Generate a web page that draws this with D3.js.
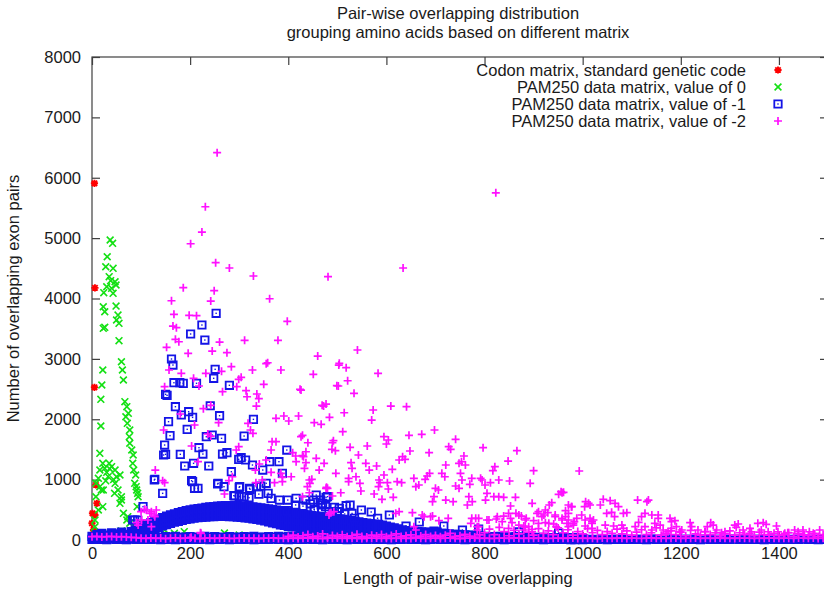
<!DOCTYPE html>
<html>
<head>
<meta charset="utf-8">
<script src="https://cdn.jsdelivr.net/npm/d3@7"></script>
<style>
  html, body { margin: 0; padding: 0; background: #fff; }
  svg { display: block; font-family: "Liberation Sans", Arial, Helvetica, sans-serif; }
</style>
</head>
<body>
<svg id="chart" width="824" height="592"></svg>
<script>
// ---- axis ticks ----
const xTicks = [0, 200, 400, 600, 800, 1000, 1200, 1400];
const yTicks = [0, 1000, 2000, 3000, 4000, 5000, 6000, 7000, 8000];

// ---- legend labels ----
const seriesNames = [
  "Codon matrix, standard genetic code",
  "PAM250 data matrix, value of 0",
  "PAM250 data matrix, value of -1",
  "PAM250 data matrix, value of -2"
];

// ---- Codon matrix: [overlap length, exon pairs] ----
const codonPoints = [
  [5,5908],[6,4176],[5,2529],[8,911],[10,608],[1,442],[6,414],[0,277],[3,166],[2,80],[7,40]
];

// ---- PAM250, value of 0 ----
const pam0Points = [
  [37,4969],[42,4914],[31,4692],[28,4526],[43,4500],[35,4361],[38,4295],[47,4278],[30,4195],[40,4169],
  [49,4223],[24,4096],[43,4086],[23,3864],[26,3781],[49,3875],[53,3726],[50,3644],[55,3589],[23,3506],
  [26,3523],[55,3301],[60,2953],[62,2816],[64,2650],[22,2816],[20,2567],[18,2330],[18,1888],[67,2291],
  [71,2208],[74,2098],[69,2042],[72,1933],[77,1822],[76,1711],[77,1602],[81,1491],[84,1408],[83,1270],
  [85,1159],[89,1077],[16,1436],[22,1270],[26,1187],[16,1159],[13,1022],[35,1270],[40,1214],[47,1159],
  [50,1048],[57,1077],[8,939],[16,883],[23,828],[47,939],[53,828],[60,717],[57,608],[87,939],
  [91,828],[94,717],[92,552],[8,717],[13,497],[6,331],[64,442],[71,331],[77,277],[6,220],
  [19,828],[46,773],[60,662],[93,773],[90,883],[22,552],[73,386],[100,277],[87,220],
  [148,166],[168,111],[188,138],[158,83],[215,28],[300,83],[118,215],[128,133],[240,66],[270,116],[321,50],[382,33],
  [30,1120],[36,1180],[33,1050],[28,980],[44,1000],[5,120],[12,60],[30,90],[60,150],[85,100],[110,60]
];

// ---- PAM250, value of -1: dense hump sampled every 8 lengths from 80 to 1000 ----
const pam1BandStart = 80, pam1BandStep = 8;
const pam1BandTop = [
  140,170,200,230,260,290,320,345,370,395, 415,435,455,470,485,500,510,520,530,540,
  548,555,560,565,568,570,570,568,565,560, 555,548,540,532,525,515,505,495,485,475,
  465,455,
  445,435,425,415,405,395,390,385,380,370, 360,350,340,330,320,310,300,290,280,270,
  265,260,245,230,215,200,185,170,155,150, 145,140,135,130,125,120,115,110,105,100,
  95,92,88,85,80,75,70,65,60,
  58,56,55,60,52,50,48,55,46,45, 50,44,42,40,45,38,36,40,35,34, 38,32,30,34,28
];
const pam1BandMid = [
  90,110,130,160,190,220,250,280,300,325, 345,365,380,395,410,420,430,440,450,455,
  460,465,470,472,475,475,475,472,470,465, 460,455,448,440,430,420,410,398,385,370,
  355,340,
  330,320,310,300,290,285,280,275,270,260, 250,240,230,225,215,210,200,195,185,180,
  175,170,160,150,140,130,125,115,110,105, 100,95,90,88,85,82,80,75,72,70,
  65,62,60,58,55,50,48,45,40,
  40,38,36,40,35,34,32,36,30,30, 32,28,28,26,30,25,24,26,22,22, 24,20,20,22,18
];
const pam1BandLow = [
  40,50,60,90,120,150,180,210,235,255, 275,295,310,325,340,350,360,370,375,380,
  385,388,390,390,390,388,385,380,375,368, 360,350,340,328,315,300,285,270,250,240,
  220,215,
  215,205,195,185,180,175,170,165,160,155, 150,145,140,135,130,125,120,115,110,105,
  100,95,90,85,80,75,70,65,60,55, 50,50,45,45,40,40,40,35,35,35,
  30,30,30,30,25,25,25,20,20,
  18,18,16,20,15,15,14,16,12,12, 14,10,10,12,10,10,8,10,8,8, 10,6,6,8,5
];
// near-zero counts, every 10 lengths
const pam1Near = [
  60,90,110,80,120,100,130,90,110,80, 70,60,55,50,45,55,50,60,45,50,
  55,45,50,60,45,55,50,40,55,50, 45,55,50,60,45,50,55,45,60,50,
  55,50,60,45,55,65,50,60,55,45, 60,50,55,45,60,50,55,65,45,50,
  55,45,50,60,45,55,40,50,45,55, 45,50,40,55,45,35,50,40,45,35,
  40,35,45,30,40,35,30,40,35,30, 35,30,25,35,30,25,30,25,20,30,
  25
];
const pam1Base = [
  10,8,12,6,14,9,11,7,13,10, 8,12,9,15,7,11,10,6,13,9, 12,8,10,14,7,11,9,13,6,10,
  11,9,13,7,12,8,10,15,9,11, 7,12,10,8,14,9,11,6,13,10, 9,11,7,13,10,12,8,14,9,11,
  10,6,12,9,13,8,11,10,7,12, 14,9,11,8,10,13,7,12,9,10, 11,8,13,10,6,12,9,14,8,11,
  10,12,7,11,9,13,10,8,12,9, 13,10,8,11,14,7,12,9,10,11, 8,12,10,6,13,9,11,10,14,8,
  11,9,12,10,7,13,8,11,9,12, 10,14,8,11,9,10,12,7,13,9, 11,10,8,12,9,13,10,11,7,10,
  9
];
const pam1Points = [
  [253,3755],[224,3561],[201,3412],[230,3312],[162,2998],[165,2898],[251,2827],[248,2678],[167,2605],[179,2605],
  [186,2595],[213,2595],[280,2562],[153,2396],[170,2208],[197,2125],[241,2224],[205,2031],[260,2059],[182,2070],
  [156,1960],[329,1998],[194,1833],[159,1728],[233,1711],[245,1739],[264,1684],[310,1722],[148,1573],[146,1408],
  [180,1419],[218,1529],[226,1424],[266,1424],[275,1446],[299,1336],[304,1363],[313,1325],[327,1242],[189,1226],
  [207,1270],[238,1226],[397,1490],[348,1159],[381,1297],[362,1297],[128,1005],[203,982],[144,773],[216,856],
  [257,939],[284,1131],[301,883],[321,856],[335,883],[355,939],[388,1104],[477,707],[150,2413],[150,1419],
  [104,552],[87,331],[457,745],[480,718],[450,662],[470,607],[453,508],[494,541],[504,525],[518,568],
  [535,360],[582,360],[640,232],[697,149],[755,166],[127,994],[209,856],[205,966],[256,928],[269,883],
  [289,734],[300,873],[310,718],[322,840],[344,894],[359,773],[466,662],[476,552],[483,469],[398,486],
  [415,580],[436,662],[490,442],[93,331],[83,331],[703,137],[526,580],[549,497],[569,464],[606,414],
  [667,298],[717,232],[788,182],[870,133],[951,116],
  [365,690],[382,662],[399,662],[416,690],[453,497],[467,580],[340,760],[300,720],[320,700],[430,560],
  [445,600],[500,470],[515,430],[530,440],[291,729]
];

// ---- PAM250, value of -2 ----
const pam2Base = [
  55,60,50,55,60,50,55,50,45,40,
  30,25,35,28,32,22,30,36,26,30, 34,28,24,30,32,26,30,35,28,25,
  30,33,27,30,24,31,29,35,26,30, 28,32,25,30,34,27,30,23,31,29,
  33,26,30,28,35,24,30,29,32,27, 30,25,33,28,31,26,34,30,27,29,
  32,26,30,35,28,24,31,29,33,27, 30,28,25,32,30,27,34,29,26,31,
  28,33,30,25,29,32,27,30,35,26, 31,28,30,24,33,29,27,31,30,26,
  32,29,25,30,34,28,31,27,30,33, 26,30,29,32,25,31,28,30,34,27,
  30,26,33,29,31,25,30,28,32,30, 27,31,29,26,33,30,28,32,25,30,
  29
];
// low counts from length 400 to 1500, every 10 lengths
const pam2Low = [
  60,80,50,70,90,55,65,100,50,75, 60,85,55,70,95,60,50,80,65,90,
  55,75,100,60,70,85,50,65,90,60, 75,55,80,110,60,70,95,65,50,85,
  120,180,90,210,140,70,160,100,230,130, 80,190,110,150,90,200,120,170,80,140,
  100,190,120,160,90,140,110,180,100,150, 80,130,170,90,120,200,80,110,150,90,
  130,70,160,100,80,140,90,120,70,100, 150,80,120,90,110,70,130,90,80,110,
  70,90,120,60,100,80,70,110,60,90, 80
];
const pam2Points = [
  [255,6415],[231,5520],[224,5101],[201,4907],[252,4593],[280,4505],[329,4373],[481,4361],[823,5750],[634,4505],
  [186,4179],[249,4129],[362,3996],[162,3963],[242,3958],[167,3738],[198,3721],[213,3715],[165,3544],[172,3516],
  [398,3622],[170,3324],[177,3284],[260,3279],[311,3307],[379,3307],[152,3191],[196,3092],[245,3130],[275,3102],
  [460,3047],[355,2920],[358,2936],[284,2870],[327,2816],[385,2816],[157,2816],[182,2761],[207,2678],[232,2761],
  [264,2794],[304,2695],[299,2662],[451,2744],[503,2898],[148,2539],[218,2551],[350,2579],[295,2539],[266,2456],
  [314,2473],[316,2373],[336,2418],[340,2340],[335,2219],[424,2496],[499,2556],[227,2175],[242,2231],[180,2087],
  [258,1943],[375,2016],[391,2054],[401,1971],[421,2054],[469,2231],[477,2252],[484,2032],[318,1933],[453,1943],
  [467,1916],[146,1822],[209,1905],[323,1822],[328,1767],[429,1734],[440,1611],[492,1645],[489,1502],[496,1479],
  [367,1628],[365,1491],[375,1628],[203,1557],[236,1756],[242,1722],[294,1491],[299,1545],[409,1446],[415,1391],
  [429,1396],[436,1280],[457,1353],[473,1270],[463,1159],[416,1297],[355,1325],[341,1259],[333,1159],[365,1121],
  [216,1297],[129,1159],[144,982],[385,1105],[388,1038],[406,1048],[433,1187],[448,1005],[444,939],[497,1105],
  [279,982],[286,1048],[372,949],[477,856],[347,994],[270,762],[490,729],[111,497],[121,469],[128,386],
  [114,331],[121,220],[221,121],[484,442],[118,442],[101,331],[94,248],
  [148,949],[334,949],[388,966],[439,883],[478,873],[107,508],[131,497],[127,414],[91,287],[100,469],
  [222,111],[202,45],[493,469],[483,414],
  [541,3147],[504,2926],[518,2854],[583,2761],[521,2638],[426,2484],[502,2551],[534,2430],[472,2219],[514,2108],
  [573,2153],[609,2219],[641,2208],[570,1987],[511,1794],[698,1822],[672,1751],[426,1711],[595,1711],[604,1656],
  [600,1590],[646,1734],[741,1668],[490,1611],[526,1535],[561,1557],[727,1545],[731,1502],[797,1529],[866,1479],
  [436,1462],[431,1380],[687,1446],[648,1474],[543,1408],[626,1325],[638,1337],[633,1380],[758,1391],[753,1297],
  [748,1270],[761,1242],[528,1280],[530,1187],[558,1270],[580,1226],[565,1159],[721,1242],[848,1308],[821,1214],
  [817,1148],[900,1148],[993,1143],[612,1171],[538,1048],[523,1022],[595,1077],[585,994],[602,949],[683,1060],
  [688,1105],[679,1005],[713,1105],[719,1048],[751,1105],[754,994],[774,1022],[792,1022],[795,994],[812,949],
  [829,994],[851,977],[893,939],[443,994],[546,939],[622,966],[631,949],[656,1022],[660,883],[666,911],
  [584,883],[587,949],[604,845],[700,856],[706,828],[741,894],[748,856],[770,922],[801,911],[805,773],
  [802,662],[523,966],[480,856],[507,783],[443,783],[429,717],[548,812],[575,762],[591,674],[614,707],
  [694,634],[697,717],[721,662],[736,634],[768,717],[775,634],[765,580],[819,717],[829,717],[839,707],
  [853,563],[863,707],[958,783],[951,757],[937,618],[932,580],[897,608],[977,552],[965,485],[1006,634],
  [1015,580],[626,469],[653,452],[677,386],[694,397],[707,320],[726,359],[774,359],[788,359],[809,331],
  [824,348],[839,397],[864,442],[875,397],[885,359],[910,469],[921,414],[929,452],[900,320],[910,277],
  [944,386],[958,359],[971,331],[983,303],[998,414],[1005,331],[1019,303],[856,287],[870,248],[883,210],
  [897,177],[924,287],[941,265],[946,220],[788,220],[785,166],[656,220],[487,452],
  [619,442],[673,414],[690,386],[782,359],[772,277],[805,331],[826,386],[836,303],[849,442],[853,359],
  [870,414],[883,331],[890,220],[897,137],[907,442],[917,386],[924,497],[931,277],[944,414],[958,331],
  [971,442],[981,277],[880,166],[660,166],[849,194],[785,220],
  [956,800],[961,790],[971,580],[978,552],[1004,552],[1012,608],[1036,580],[1042,674],[1056,651],[1066,608],
  [1073,552],[1112,662],[1134,662],[1131,635],[1049,442],[1059,459],[1065,386],[1083,442],[1090,452],[1015,359],
  [1022,331],[1019,277],[965,386],[968,277],[981,248],[971,220],[988,359],[1046,248],[1063,232],[1080,248],
  [1083,194],[1005,232],[1019,194],[1114,293],[1127,442],[1120,386],[1141,414],[1154,414],[1154,359],[1107,220],
  [1127,220],[1141,166],[1147,277],[1158,248],[1178,359],[1181,303],[1188,320],[1164,166],[1174,137],[1181,194],
  [1191,220],[1202,166],[1198,137],[1219,287],[1222,220],[1235,166],[1249,137],[1261,287],[1266,248],[1254,220],
  [1273,166],[1283,121],[1290,137],[1310,248],[1317,265],[1313,210],[1327,166],[1341,194],[1344,137],[1357,277],
  [1368,287],[1374,260],[1364,166],[1378,137],[1395,232],[1398,137],[1412,111],[1418,121],[1432,166],[1439,137],
  [1449,166],[1452,83],[1462,137],[1473,99],[1483,166]
];

// ---- assemble series ----
const bandLengths = d3.range(pam1BandStart, 1001, pam1BandStep);
const every10 = (start, vals) => vals.map((v, i) => [start + i * 10, v]);

const codonSeries = codonPoints;
const pam0Series = pam0Points;
// the crowded part of the -1 series, where boxes overlap into a solid band
const pam1Dense = [
  ...bandLengths.map((l, i) => [l, pam1BandLow[i]]),
  ...bandLengths.map((l, i) => [l, pam1BandMid[i]]),
  ...bandLengths.map((l, i) => [l, pam1BandTop[i]]),
  ...every10(0, pam1Near),
  ...every10(0, pam1Base)
];
const pam1Series = pam1Points;
const pam2Series = [
  ...every10(0, pam2Base),
  ...every10(400, pam2Low),
  ...pam2Points
];

// ---- layout ----
const svg = d3.select("#chart");
const W = 824, H = 592;
const plot = { left: 92, right: 828, top: 57, bottom: 540 };

svg.append("rect").attr("width", W).attr("height", H).attr("fill", "#fff");

const x = d3.scaleLinear().domain([0, 1500]).range([plot.left, plot.right]);
const y = d3.scaleLinear().domain([0, 8000]).range([plot.bottom, plot.top]);

const FONT = 16.5;
const INK = "#1a1a1a";
const AXIS = "#404040";
const fmt = d3.format("d");

// border
svg.append("rect")
  .attr("x", plot.left).attr("y", plot.top)
  .attr("width", plot.right - plot.left).attr("height", plot.bottom - plot.top)
  .attr("fill", "none").attr("stroke", AXIS).attr("stroke-width", 1.2);

function styleAxis(g) {
  g.select(".domain").remove();
  g.selectAll(".tick line").attr("stroke", AXIS).attr("stroke-width", 1.2);
  g.selectAll(".tick text").attr("fill", INK).style("font-size", FONT + "px")
    .style("font-family", '"Liberation Sans", Arial, sans-serif');
}

svg.append("g").attr("transform", `translate(${plot.left},0)`)
  .call(d3.axisLeft(y).tickValues(yTicks).tickFormat(fmt).tickSizeInner(-8).tickSizeOuter(0).tickPadding(11))
  .call(styleAxis);
svg.append("g").attr("transform", `translate(${plot.right},0)`)
  .call(d3.axisRight(y).tickValues(yTicks).tickSizeInner(-8).tickSizeOuter(0).tickFormat(""))
  .call(styleAxis);
svg.append("g").attr("transform", `translate(0,${plot.bottom})`)
  .call(d3.axisBottom(x).tickValues(xTicks).tickFormat(fmt).tickSizeInner(-8).tickSizeOuter(0).tickPadding(7))
  .call(styleAxis);
svg.append("g").attr("transform", `translate(0,${plot.top})`)
  .call(d3.axisTop(x).tickValues(xTicks).tickSizeInner(-8).tickSizeOuter(0).tickFormat(""))
  .call(styleAxis);

// titles
const title = svg.append("text").attr("x", 458).attr("text-anchor", "middle")
  .attr("fill", INK).style("font-size", FONT + "px");
title.append("tspan").attr("x", 458).attr("y", 19).text("Pair-wise overlapping distribution");
title.append("tspan").attr("x", 458).attr("y", 38).text("grouping amino acids based on different matrix");

svg.append("text").attr("x", 458).attr("y", 584).attr("text-anchor", "middle")
  .attr("fill", INK).style("font-size", FONT + "px")
  .text("Length of pair-wise overlapping");

svg.append("text").attr("transform", `translate(19,${(plot.top + plot.bottom) / 2}) rotate(-90)`)
  .attr("text-anchor", "middle").attr("fill", INK).style("font-size", FONT + "px")
  .text("Number of overlapping exon pairs");

// ---- point symbols ----
const symbols = {
  star: s => `M${-s},0H${s}M0,${-s}V${s}M${-s * 0.75},${-s * 0.75}L${s * 0.75},${s * 0.75}M${-s * 0.75},${s * 0.75}L${s * 0.75},${-s * 0.75}`,
  cross: s => `M${-s},${-s}L${s},${s}M${-s},${s}L${s},${-s}`,
  plus: s => `M${-s},0H${s}M0,${-s}V${s}`,
  box: s => `M${-s},${-s}H${s}V${s}H${-s}Z`
};

const styles = [
  { color: "#ff0000", sym: "star", size: 3.6, width: 1.9 },
  { color: "#14e014", sym: "cross", size: 3.4, width: 1.6 },
  { color: "#1414e6", sym: "box", size: 3.7, width: 1.8 },
  { color: "#ff10ff", sym: "plus", size: 4, width: 1.7 }
];

function drawSeries(data, st, solid) {
  const g = svg.append("g");
  g.selectAll("path").data(data).join("path")
    .attr("transform", d => `translate(${x(d[0])},${y(d[1])})`)
    .attr("d", symbols[st.sym](st.size))
    .attr("fill", solid ? st.color : "none")
    .attr("stroke", st.color)
    .attr("stroke-width", st.width);
  if (st.sym === "box" && !solid) {
    g.selectAll("rect").data(data).join("rect")
      .attr("x", d => x(d[0]) - 0.7).attr("y", d => y(d[1]) - 0.7)
      .attr("width", 1.4).attr("height", 1.4)
      .attr("fill", st.color);
  }
}

drawSeries(codonSeries, styles[0]);
drawSeries(pam0Series, styles[1]);
drawSeries(pam1Dense, styles[2], true);
drawSeries(pam1Series, styles[2]);
drawSeries(pam2Series, styles[3]);

// ---- legend ----
const legendRows = [70, 87, 104, 121];
seriesNames.forEach((name, i) => {
  svg.append("text").attr("x", 746).attr("y", legendRows[i] + 6)
    .attr("text-anchor", "end").attr("fill", INK).style("font-size", FONT + "px")
    .text(name);
  const st = styles[i];
  svg.append("path")
    .attr("transform", `translate(778,${legendRows[i]})`)
    .attr("d", symbols[st.sym](st.size))
    .attr("fill", "none").attr("stroke", st.color).attr("stroke-width", st.width);
  if (st.sym === "box") {
    svg.append("rect").attr("x", 778 - 0.7).attr("y", legendRows[i] - 0.7)
      .attr("width", 1.4).attr("height", 1.4).attr("fill", st.color);
  }
});
</script>
</body>
</html>
